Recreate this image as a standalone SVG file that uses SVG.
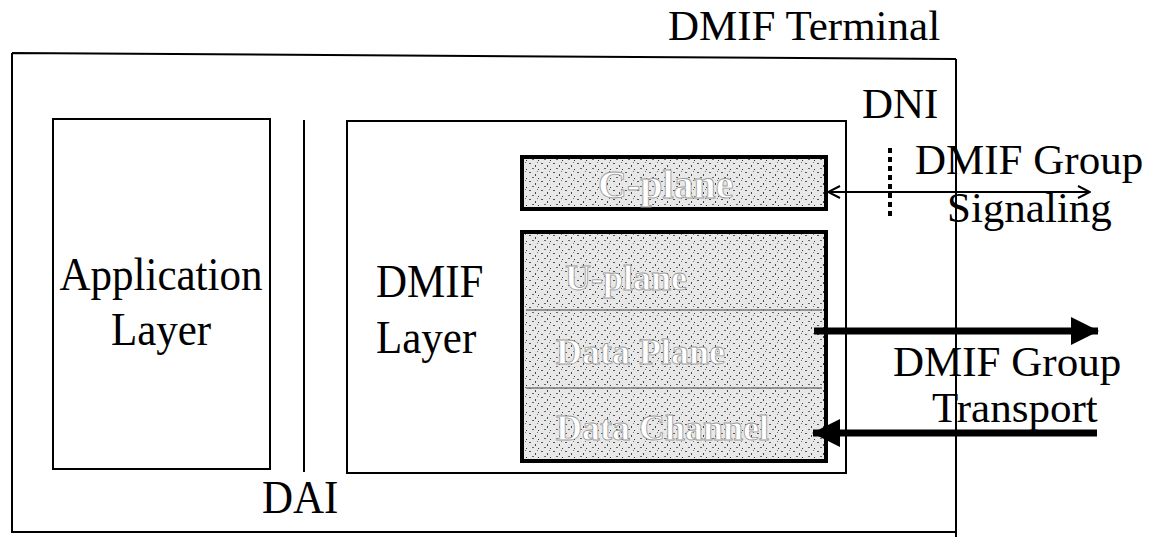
<svg xmlns="http://www.w3.org/2000/svg" width="1155" height="537" viewBox="0 0 1155 537">
<style>
.t{font-size:43px;fill:#000}
.ln{stroke:#000;fill:none;stroke-width:2}
.box{stroke:#000;fill:#fff;stroke-width:2}
.gbox{stroke:#000;fill:url(#speck);stroke-width:4}
.wt{font-weight:bold;fill:#fff;stroke:#999;stroke-width:0.8}
.thin{stroke:#777;stroke-width:1.5}
</style>
<defs>
<pattern id="speck" width="12" height="9" patternUnits="userSpaceOnUse">
<rect width="12" height="9" fill="#e8e8e8"/>
<rect x="1" y="1" width="2" height="1" fill="#555"/>
<rect x="7" y="3" width="1" height="2" fill="#444"/>
<rect x="4" y="6" width="2" height="1" fill="#666"/>
<rect x="10" y="7" width="1" height="1" fill="#333"/>
<rect x="9" y="0" width="1" height="1" fill="#777"/>
</pattern>
<marker id="openL" viewBox="0 0 14 14" refX="1" refY="7" markerWidth="14" markerHeight="14" markerUnits="userSpaceOnUse" orient="auto">
<path d="M13,1 L1,7 L13,13" fill="none" stroke="#000" stroke-width="2"/>
</marker>
<marker id="openR" viewBox="0 0 14 14" refX="13" refY="7" markerWidth="14" markerHeight="14" markerUnits="userSpaceOnUse" orient="auto">
<path d="M1,1 L13,7 L1,13" fill="none" stroke="#000" stroke-width="2"/>
</marker>
<marker id="fill" viewBox="0 0 28 30" refX="27" refY="15" markerWidth="28" markerHeight="30" markerUnits="userSpaceOnUse" orient="auto">
<path d="M0,1 L28,15 L0,29 Z" fill="#000"/>
</marker>
</defs>

<g font-family="Liberation Serif, Times New Roman, serif">
<g id="terminal">
<path class="ln" d="M12,53 L956,59 M12,53 L12,532 L956,532 M956,59 L956,537"/>
<text class="t" x="668" y="40">DMIF Terminal</text>
</g>

<g id="app-layer">
<rect class="box" x="53" y="119" width="217" height="350"/>
<text class="t" transform="translate(161,290) scale(1,1.1)" text-anchor="middle">Application</text>
<text class="t" transform="translate(161,345) scale(1,1.1)" text-anchor="middle">Layer</text>
</g>

<g id="dai">
<line class="ln" x1="304" y1="120" x2="304" y2="472"/>
<text class="t" transform="translate(262,513) scale(1,1.1)">DAI</text>
</g>

<g id="dmif-layer">
<rect class="box" x="347" y="121" width="499" height="352"/>
<text class="t" transform="translate(376,297) scale(1,1.1)">DMIF</text>
<text class="t" transform="translate(376,353) scale(1,1.1)">Layer</text>
</g>

<g id="c-plane">
<rect class="gbox" x="522" y="157" width="304" height="52"/>
<text class="wt" x="598" y="198" font-size="40">C-plane</text>
</g>

<g id="u-plane">
<rect class="gbox" x="522" y="232" width="304" height="229"/>
<line class="thin" x1="526" y1="310" x2="822" y2="310"/>
<line class="thin" x1="526" y1="388" x2="822" y2="388"/>
<text class="wt" x="565" y="290" font-size="36">U-plane</text>
<text class="wt" x="556" y="364" font-size="36">Data Plane</text>
<text class="wt" x="556" y="440" font-size="36">Data Channel</text>
</g>

<g id="dni">
<text class="t" x="862" y="118">DNI</text>
<line x1="890" y1="148" x2="890" y2="218" stroke="#000" stroke-width="4" stroke-dasharray="5,4"/>
</g>

<g id="labels">
<text class="t" x="915" y="174">DMIF Group</text>
<text class="t" x="947" y="222">Signaling</text>
<text class="t" x="893" y="376">DMIF Group</text>
<text class="t" x="932" y="422">Transport</text>
</g>
</g>

<g id="connectors">
<line x1="828" y1="192" x2="1090" y2="192" stroke="#000" stroke-width="2" marker-start="url(#openL)" marker-end="url(#openR)"/>
<line x1="814" y1="331" x2="1098" y2="331" stroke="#000" stroke-width="7" marker-end="url(#fill)"/>
<line x1="1097" y1="433" x2="813" y2="433" stroke="#000" stroke-width="7" marker-end="url(#fill)"/>
</g>
</svg>
